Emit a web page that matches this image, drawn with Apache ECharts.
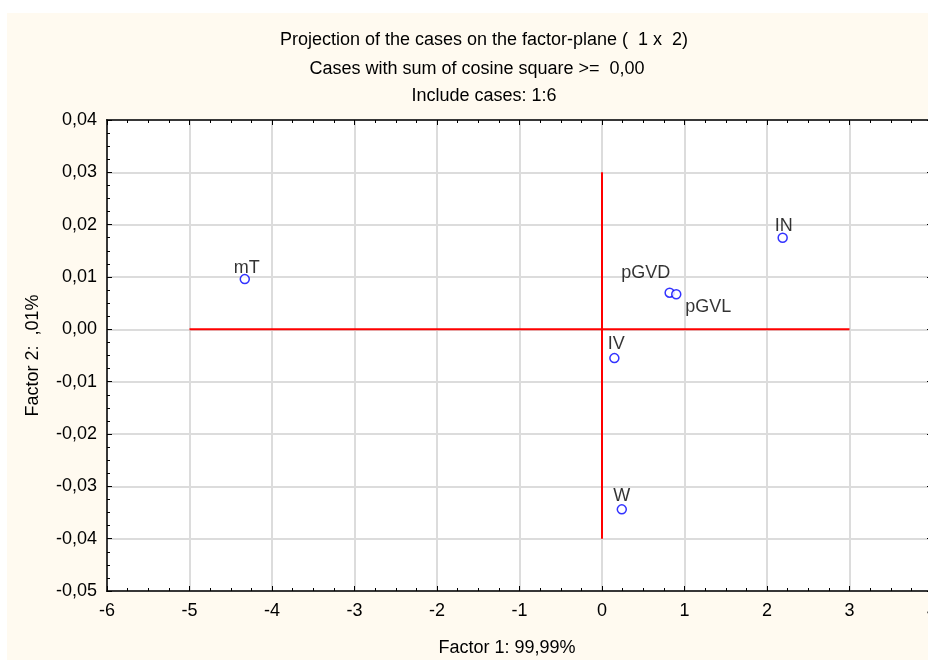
<!DOCTYPE html>
<html>
<head>
<meta charset="utf-8">
<script src="https://cdn.jsdelivr.net/npm/echarts@6/dist/echarts.min.js"></script>
<style>
html,body{margin:0;padding:0;background:#ffffff;overflow:hidden;}
#c{width:928px;height:660px;}
</style>
</head>
<body>
<div id="c"></div>
<script>
// ---- data ----
var caseNames = ['mT', 'IN', 'pGVD', 'pGVL', 'IV', 'W'];
var factor1 = [-4.33, 2.19, 0.82, 0.90, 0.15, 0.24];
var factor2 = [0.0096, 0.0175, 0.0070, 0.0067, -0.0055, -0.0344];
var hLineX = [-5, 3];
var hLineY = [0, 0];
var vLineX = [0, 0];
var vLineY = [-0.04, 0.03];
var titleLines = [
  'Projection of the cases on the factor-plane (  1 x  2)',
  'Cases with sum of cosine square >=  0,00',
  'Include cases: 1:6'
];
var xAxisTitle = 'Factor 1: 99,99%';
var yAxisTitle = 'Factor 2:  ,01%';

// ---- styling (not data) ----
var labelOffsets = {
  'mT': [2, -11], 'IN': [1, -12], 'pGVD': [-24, -20],
  'pGVL': [32, 13], 'IV': [2, -14], 'W': [0, -13]
};
var FONT = 'Liberation Sans, Arial, sans-serif';
var FS = 18;

var scatterData = caseNames.map(function (n, i) {
  return {
    name: n,
    value: [factor1[i], factor2[i]],
    label: { offset: labelOffsets[n] }
  };
});

function fmtY(v) {
  var s = (Math.abs(v) < 1e-9 ? 0 : v).toFixed(2);
  return s.replace('.', ',');
}

var chart = echarts.init(document.getElementById('c'), null, { renderer: 'canvas' });

var xBase = {
  type: 'value', min: -6, max: 4, interval: 1,
  axisLine: { show: true, onZero: false, lineStyle: { color: '#000', width: 1.5 } },
  axisTick: { show: true, inside: true, length: 5, lineStyle: { color: '#000' } },
  minorTick: { show: true, splitNumber: 4, length: 3, lineStyle: { color: '#000' } },
  splitLine: { show: false },
  axisLabel: { show: false }
};
var yBase = {
  type: 'value', min: -0.05, max: 0.04, interval: 0.01,
  axisLine: { show: true, onZero: false, lineStyle: { color: '#000', width: 1.5 } },
  axisTick: { show: true, inside: true, length: 5, lineStyle: { color: '#000' } },
  minorTick: { show: true, splitNumber: 4, length: 3, lineStyle: { color: '#000' } },
  splitLine: { show: false },
  axisLabel: { show: false }
};

var option = {
  animation: false,
  backgroundColor: '#ffffff',
  graphic: [
    { type: 'rect', z: -10, shape: { x: 7, y: 13, width: 930, height: 660 }, style: { fill: '#fffaf0' } },
    { type: 'text', x: 484, y: 40, style: { text: titleLines[0], font: FS + 'px ' + FONT, fill: '#000', align: 'center', verticalAlign: 'middle' } },
    { type: 'text', x: 477, y: 69, style: { text: titleLines[1], font: FS + 'px ' + FONT, fill: '#000', align: 'center', verticalAlign: 'middle' } },
    { type: 'text', x: 484, y: 96, style: { text: titleLines[2], font: FS + 'px ' + FONT, fill: '#000', align: 'center', verticalAlign: 'middle' } },
    { type: 'text', x: 507, y: 648, style: { text: xAxisTitle, font: FS + 'px ' + FONT, fill: '#000', align: 'center', verticalAlign: 'middle' } }
  ],
  grid: {
    left: 107, top: 120, width: 825, height: 471,
    outerBoundsMode: 'none', containLabel: false,
    show: true, backgroundColor: '#ffffff', borderColor: '#000', borderWidth: 1.5
  },
  xAxis: [
    Object.assign({}, xBase, {
      position: 'bottom',
      splitLine: { show: true, lineStyle: { color: '#dcdcdc', width: 2 } },
      axisLabel: { show: true, color: '#000', fontSize: FS, fontFamily: FONT, margin: 11 }
    }),
    Object.assign({}, xBase, { position: 'top' })
  ],
  yAxis: [
    Object.assign({}, yBase, {
      position: 'left',
      splitLine: { show: true, lineStyle: { color: '#dcdcdc', width: 2 } },
      axisLabel: { show: true, color: '#000', fontSize: FS, fontFamily: FONT, margin: 10, formatter: fmtY },
      name: yAxisTitle, nameLocation: 'middle', nameGap: 65, nameRotate: 90,
      nameTextStyle: { color: '#000', fontSize: FS, fontFamily: FONT }
    }),
    Object.assign({}, yBase, { position: 'right' })
  ],
  series: [
    {
      type: 'line', xAxisIndex: 0, yAxisIndex: 0, z: 2,
      data: hLineX.map(function (x, i) { return [x, hLineY[i]]; }),
      showSymbol: false, symbol: 'none', silent: true,
      lineStyle: { color: '#ff0000', width: 2 }
    },
    {
      type: 'line', xAxisIndex: 0, yAxisIndex: 0, z: 2,
      data: vLineX.map(function (x, i) { return [x, vLineY[i]]; }),
      showSymbol: false, symbol: 'none', silent: true,
      lineStyle: { color: '#ff0000', width: 2 }
    },
    {
      type: 'scatter', xAxisIndex: 0, yAxisIndex: 0, z: 5,
      symbol: 'circle', symbolSize: 9,
      itemStyle: { color: '#ffffff', borderColor: '#0000ff', borderWidth: 1.5 },
      label: {
        show: true, position: 'inside', color: '#000', fontSize: FS, fontFamily: FONT,
        formatter: function (p) { return p.name; }
      },
      data: scatterData
    }
  ]
};
chart.setOption(option);
</script>
</body>
</html>
